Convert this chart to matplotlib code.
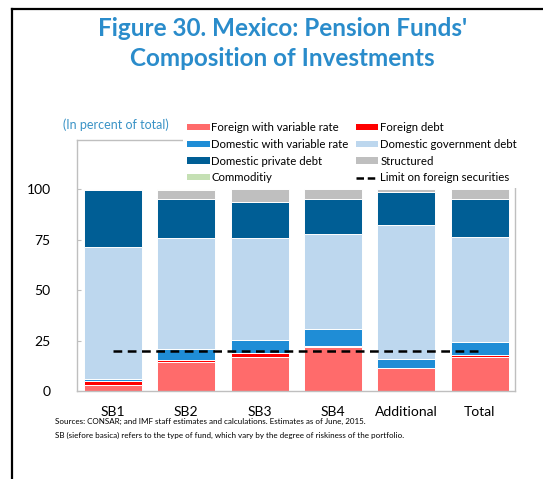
import matplotlib.pyplot as plt
import numpy as np
from matplotlib.lines import Line2D
from matplotlib.patches import Patch, Rectangle

plt.rcParams['font.family'] = ['Lato', 'DejaVu Sans']

categories = ['SB1', 'SB2', 'SB3', 'SB4', 'Additional', 'Total']
foreign_var = [3.0, 14.5, 17.0, 21.9, 11.2, 17.0]
foreign_debt = [2.1, 0.8, 1.6, 0.6, 0.0, 0.8]
domestic_var = [0.8, 5.3, 6.6, 8.2, 4.5, 6.6]
domestic_gov = [65.5, 55.0, 50.4, 47.0, 66.5, 51.7]
domestic_priv = [28.1, 19.6, 18.1, 17.2, 16.5, 18.9]
structured = [0.5, 4.3, 6.3, 5.1, 1.3, 5.0]
commodity = [0.0, 0.5, 0.0, 0.0, 0.0, 0.0]
limit_foreign = [20, 20, 20, 20, 20, 20]

series = [
    ('Foreign with variable rate', foreign_var, '#ff6b6b'),
    ('Foreign debt', foreign_debt, '#ff0000'),
    ('Domestic with variable rate', domestic_var, '#1f8dd6'),
    ('Domestic government debt', domestic_gov, '#bdd7ee'),
    ('Domestic private debt', domestic_priv, '#005e95'),
    ('Structured', structured, '#bfbfbf'),
    ('Commoditiy', commodity, '#c5e0b4'),
]

fig = plt.figure(figsize=(5.43, 4.79), dpi=100)
ax = fig.add_axes([0.1418, 0.1837, 0.8066, 0.524])

x = np.arange(len(categories))
bottom = np.zeros(len(categories))
handles = {}
for name, vals, col in series:
    vals = np.array(vals)
    ax.bar(x, vals, 0.79, bottom=bottom, color=col, edgecolor='white', linewidth=0.7)
    bottom += vals
    handles[name] = Patch(facecolor=col, edgecolor='none')

ax.plot(x, limit_foreign, color='black', linestyle=(0, (3.5, 2.2)), linewidth=1.8)
handles['Limit on foreign securities'] = Line2D([], [], color='black', linestyle=(0, (3, 1.5)), linewidth=1.8)

ax.set_xlim(-0.49, 5.48)
ax.set_ylim(0, 124.3)
ax.set_yticks([0, 25, 50, 75, 100])
ax.set_xticks(x)
ax.set_xticklabels(categories, fontsize=10)
ax.tick_params(axis='y', direction='in', length=3, color='#bfbfbf', labelsize=10, pad=19)
ax.tick_params(axis='x', length=0, pad=11)
for s in ax.spines.values():
    s.set_color('#bfbfbf')
    s.set_linewidth(1)

# white box behind the legend, hiding the top of the frame like the original
fig.add_artist(Rectangle((0.337, 0.607), 0.62, 0.16, transform=fig.transFigure,
                         facecolor='white', edgecolor='none', zorder=2))

order = ['Foreign with variable rate', 'Domestic with variable rate', 'Domestic private debt', 'Commoditiy',
         'Foreign debt', 'Domestic government debt', 'Structured', 'Limit on foreign securities']
leg = fig.legend([handles[k] for k in order], order, ncol=2, loc='upper left',
                 bbox_to_anchor=(0.338, 0.752), fontsize=8.2, frameon=False,
                 handlelength=2.0, handleheight=0.5, handletextpad=0.15, columnspacing=0.6,
                 labelspacing=0.5, borderpad=0.3, borderaxespad=0)
leg.set_zorder(3)

blue = '#2a8ccb'
fig.text(0.52, 0.941, "Figure 30. Mexico: Pension Funds'", ha='center', va='center',
         fontsize=17.5, fontweight='bold', color=blue)
fig.text(0.52, 0.877, 'Composition of Investments', ha='center', va='center',
         fontsize=17.5, fontweight='bold', color=blue)
fig.text(0.116, 0.739, '(In percent of total)', ha='left', va='center', fontsize=9, color='#3a93c6')

fig.text(0.101, 0.121, 'Sources: CONSAR; and IMF staff estimates and calculations. Estimates as of June, 2015.',
         ha='left', va='center', fontsize=5.8)
fig.text(0.101, 0.092, 'SB (siefore basica) refers to the type of fund, which vary by the degree of riskiness of the portfolio.',
         ha='left', va='center', fontsize=5.8)

# outer frame (top and left)
fig.add_artist(Line2D([0.023, 0.023], [0.0, 0.982], transform=fig.transFigure, color='black', linewidth=1.6))
fig.add_artist(Line2D([0.023, 1.0], [0.982, 0.982], transform=fig.transFigure, color='black', linewidth=1.6))

fig.savefig('out.png', dpi=100)
